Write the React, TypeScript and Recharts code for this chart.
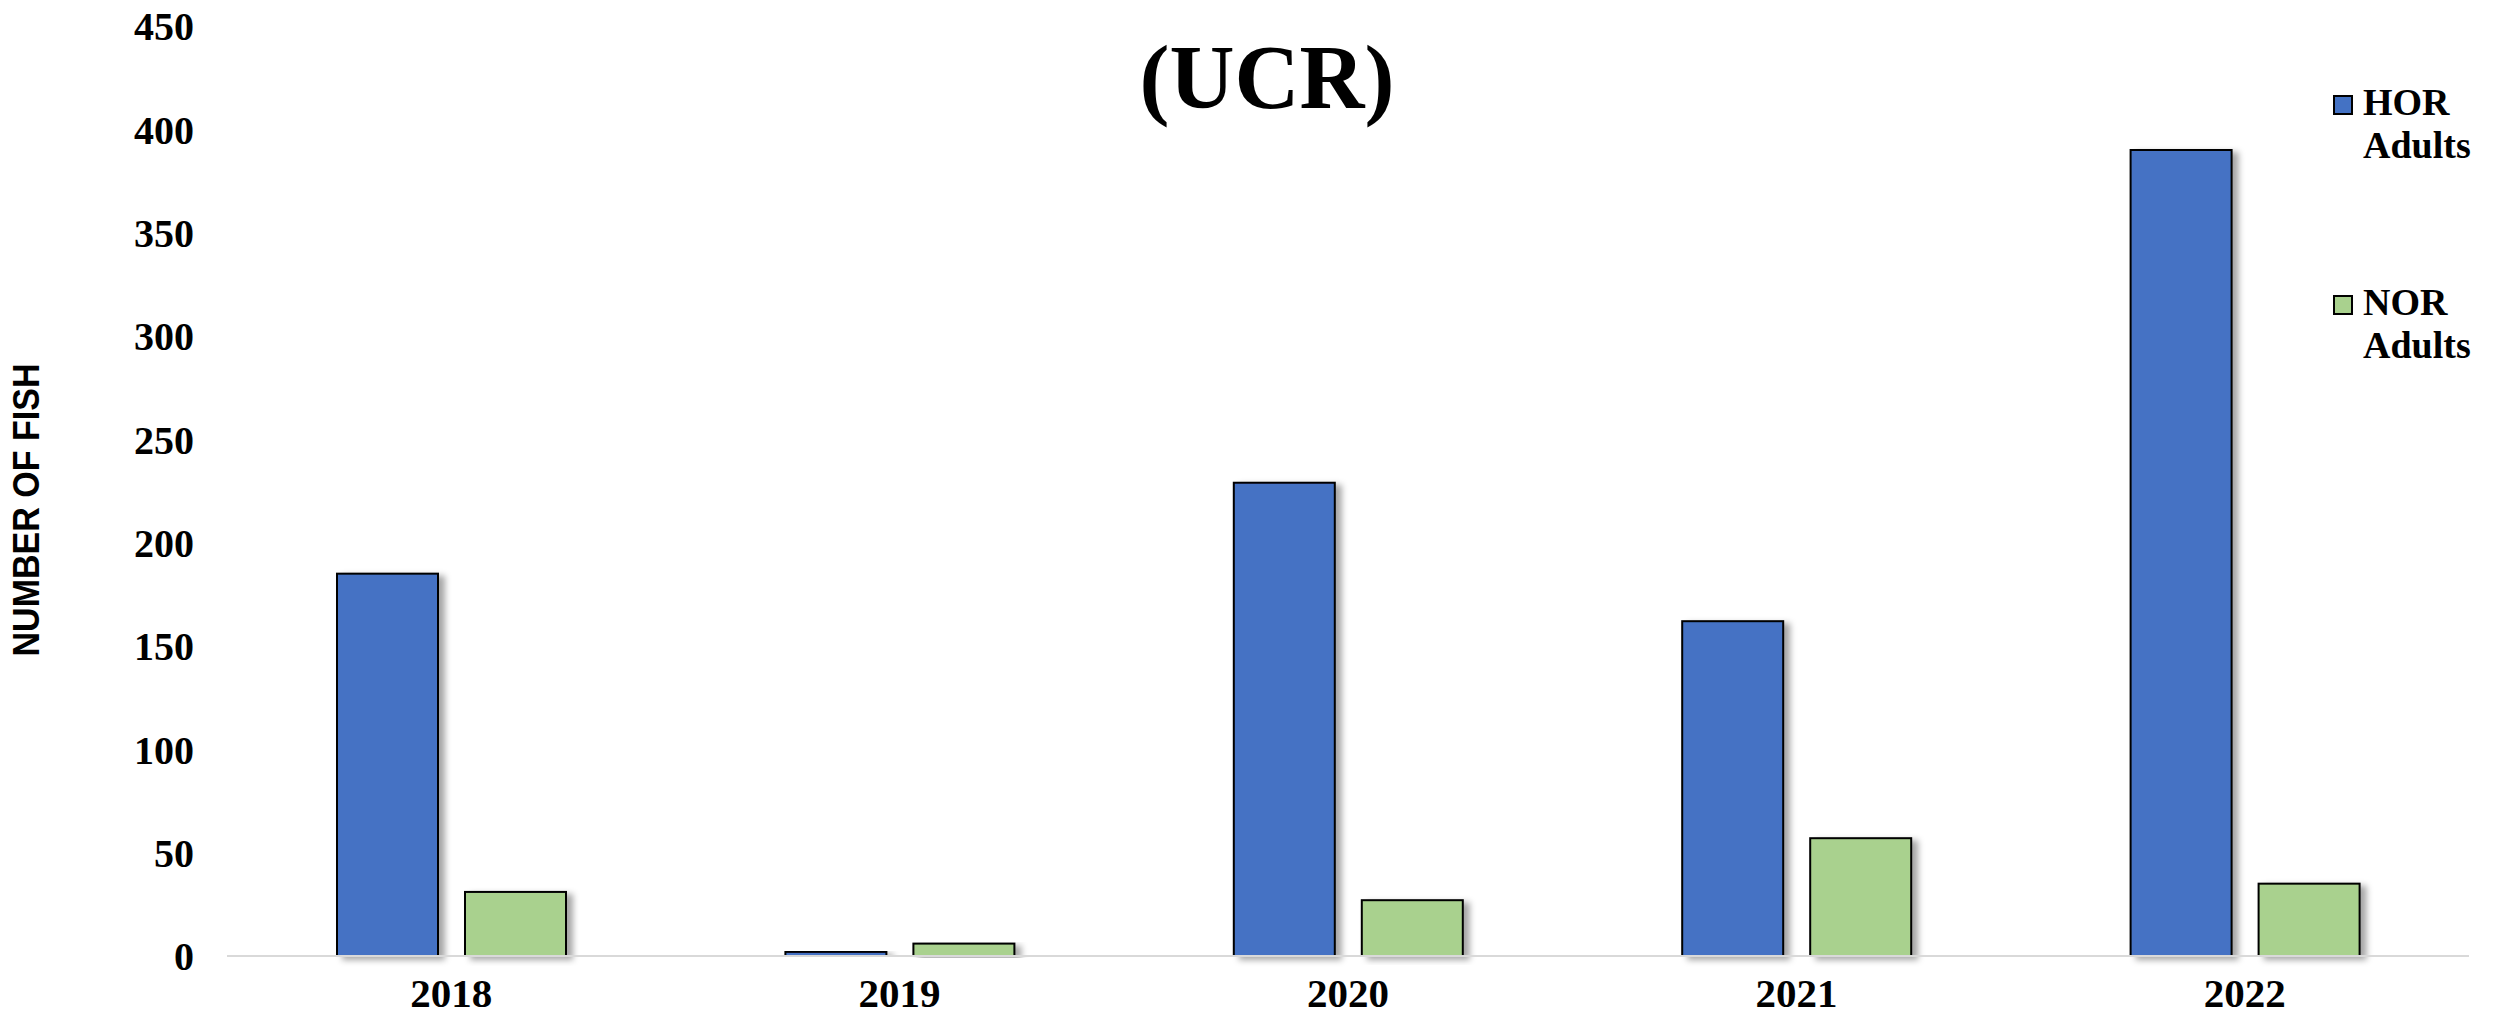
import React from "react";
import {
  BarChart,
  Bar,
  XAxis,
  YAxis,
  Legend,
  Label,
} from "recharts";

// values
const years = ["2018", "2019", "2020", "2021", "2022"];
const horAdults = [185, 2, 229, 162, 390];
const norAdults = [31, 6, 27, 57, 35];
const yTicks = [0, 50, 100, 150, 200, 250, 300, 350, 400, 450];

const seriesNames = ["HOR Adults", "NOR Adults"];
const seriesColors = ["#4472C4", "#A9D18E"];

const data = years.map((year, i) => ({
  year,
  hor: horAdults[i],
  nor: norAdults[i],
}));

const serif = "'Liberation Serif', 'Times New Roman', serif";

const ShadowBar = (props: any) => {
  const { x, y, width, height, fill } = props;
  if (!height || height <= 0) return null;
  return (
    <rect
      x={x}
      y={y}
      width={width}
      height={height}
      fill={fill}
      stroke="#000"
      strokeWidth={2}
      filter="url(#barShadow)"
    />
  );
};

const LegendBox = () => (
  <div style={{ fontFamily: serif, fontWeight: "bold", fontSize: 38 }}>
    {seriesNames.map((name, i) => {
      const [first, second] = name.split(" ");
      return (
        <div
          key={name}
          style={{ display: "flex", alignItems: "flex-start", marginBottom: i === 0 ? 114 : 0 }}
        >
          <div
            style={{
              width: 20,
              height: 20,
              boxSizing: "border-box",
              border: "2px solid #000",
              background: seriesColors[i],
              marginTop: 14,
              marginRight: 10,
              flexShrink: 0,
            }}
          />
          <div style={{ lineHeight: "43px", color: "#000" }}>
            {first}
            <br />
            {second}
          </div>
        </div>
      );
    })}
  </div>
);

const YTitle = () => (
  <text
    x={0}
    y={0}
    transform="translate(39, 510) rotate(-90)"
    textAnchor="middle"
    textLength={293}
    lengthAdjust="spacingAndGlyphs"
    fontFamily="'Liberation Sans Narrow', 'Liberation Sans', Arial, sans-serif"
    fontWeight="bold"
    fontSize={36}
    fill="#000"
  >
    NUMBER OF FISH
  </text>
);

export default function App() {
  return (
    <div style={{ position: "relative", margin: -8, width: 2497, height: 1021, background: "#fff" }}>
      <div
        style={{
          position: "absolute",
          left: 1267,
          top: 33,
          transform: "translateX(-50%)",
          fontFamily: serif,
          fontWeight: "bold",
          fontSize: 90,
          lineHeight: "90px",
          whiteSpace: "nowrap",
          color: "#000",
          zIndex: 2,
        }}
      >
        (UCR)
      </div>
      <BarChart
        width={2497}
        height={1021}
        data={data}
        margin={{ top: 26, right: 28, bottom: 0, left: 0 }}
        barCategoryGap={110}
        barGap={27}
      >
        <defs>
          <filter id="barShadow" x="-20%" y="-10%" width="150%" height="125%">
            <feDropShadow dx="6" dy="3" stdDeviation="3" floodColor="#000" floodOpacity="0.35" />
          </filter>
        </defs>
        <XAxis
          dataKey="year"
          axisLine={{ stroke: "#d9d9d9", strokeWidth: 2 }}
          tickLine={false}
          tickSize={0}
          tickMargin={22}
          height={65}
          tick={{ fontFamily: serif, fontWeight: "bold", fontSize: 41, fill: "#000" }}
        />
        <YAxis
          domain={[0, 450]}
          ticks={yTicks}
          width={227}
          axisLine={false}
          tickLine={false}
          tickSize={0}
          tickMargin={33}
          tick={{ fontFamily: serif, fontWeight: "bold", fontSize: 40, fill: "#000" }}
        >
          <Label content={<YTitle />} />
        </YAxis>
        <Legend
          layout="vertical"
          align="center"
          verticalAlign="middle"
          wrapperStyle={{ left: 2333, top: 81, width: 160, height: 300 }}
          content={<LegendBox />}
        />
        <Bar dataKey="hor" name={seriesNames[0]} fill={seriesColors[0]} shape={<ShadowBar />} isAnimationActive={false} />
        <Bar dataKey="nor" name={seriesNames[1]} fill={seriesColors[1]} shape={<ShadowBar />} isAnimationActive={false} />
      </BarChart>
    </div>
  );
}
